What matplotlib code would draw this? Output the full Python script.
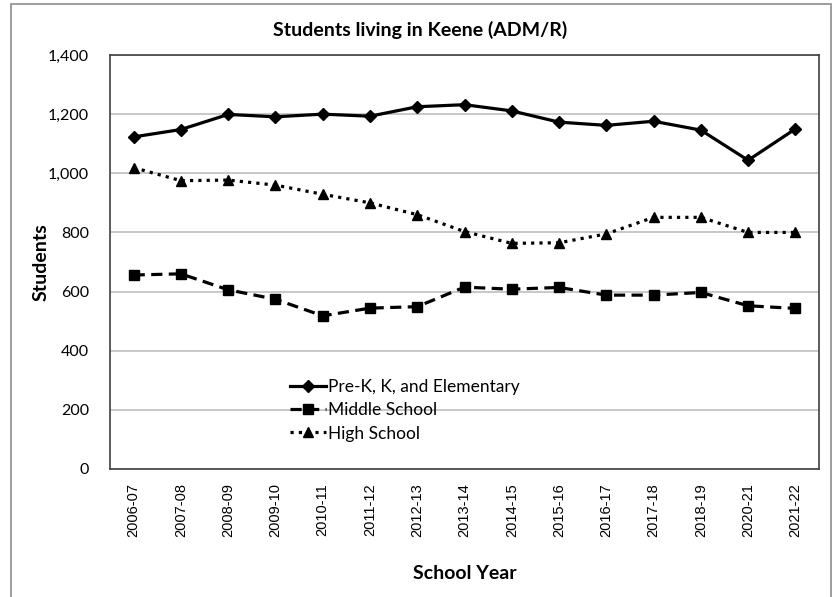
import matplotlib.pyplot as plt
from matplotlib.patches import Rectangle

years = ["2006-07", "2007-08", "2008-09", "2009-10", "2010-11", "2011-12",
         "2012-13", "2013-14", "2014-15", "2015-16", "2016-17", "2017-18",
         "2018-19", "2020-21", "2021-22"]
elementary = [1123, 1148, 1199, 1191, 1200, 1193, 1225, 1232, 1211, 1173,
              1162, 1176, 1146, 1044, 1150]
middle = [656, 660, 606, 574, 518, 544, 549, 615, 608, 614, 588, 588, 597,
          552, 543]
high = [1019, 975, 977, 960, 929, 900, 860, 803, 763, 765, 795, 851, 851,
        800, 800]

calibri = ["Lato", "DejaVu Sans"]

fig = plt.figure(figsize=(8.35, 5.97), dpi=100)
ax = fig.add_axes([110 / 835, 1 - 469 / 597, 709 / 835, 414 / 597])

x = list(range(len(years)))
ax.plot(x, elementary, color="black", lw=2.3, marker="D", ms=6.5,
        label="Pre-K, K, and Elementary")
ax.plot(x, middle, color="black", lw=2.3, ls=(0, (3.5, 2)), marker="s",
        ms=7, label="Middle School")
ax.plot(x, high, color="black", lw=2.3, ls=(0, (1, 1.6)), marker="^",
        ms=7.5, label="High School")

ax.set_xlim(-0.5, len(years) - 0.5)
ax.set_ylim(0, 1400)
ax.set_yticks(range(0, 1401, 200))
ax.set_yticklabels([f"{v:,}" for v in range(0, 1401, 200)],
                   fontfamily=calibri, fontsize=11.5)
ax.set_xticks(x)
ax.set_xticklabels(years, rotation=90, fontfamily="Liberation Sans",
                   fontsize=10.5)
ax.tick_params(length=0)
ax.tick_params(axis="y", pad=15)
ax.tick_params(axis="x", pad=10)
ax.grid(axis="y", color="#bfbfbf", lw=1.2)
ax.set_axisbelow(True)
for s in ax.spines.values():
    s.set_color("#404040")
    s.set_linewidth(1.2)

fig.text(420 / 835, 1 - 30 / 597, "Students living in Keene (ADM/R)",
         fontfamily=calibri, fontweight="bold", fontsize=14,
         ha="center", va="center")
ax.set_ylabel("Students", fontfamily=calibri, fontweight="bold",
              fontsize=14, labelpad=-1)
ax.set_xlabel("School Year", fontfamily=calibri, fontweight="bold",
              fontsize=14, labelpad=20)

leg = ax.legend(loc="upper left", bbox_to_anchor=(283 / 835, 1 - 372 / 597),
                bbox_transform=fig.transFigure, frameon=False,
                prop={"family": calibri, "size": 12.5}, handlelength=2.1,
                handletextpad=0.1, labelspacing=0.42, borderaxespad=0)

fig.patches.append(Rectangle((11 / 835, -0.05), 820 / 835, 1.05 - 4 / 597,
                             transform=fig.transFigure, fill=False,
                             edgecolor="#8c8c8c", lw=1.2))

fig.savefig("out.png", dpi=100)
